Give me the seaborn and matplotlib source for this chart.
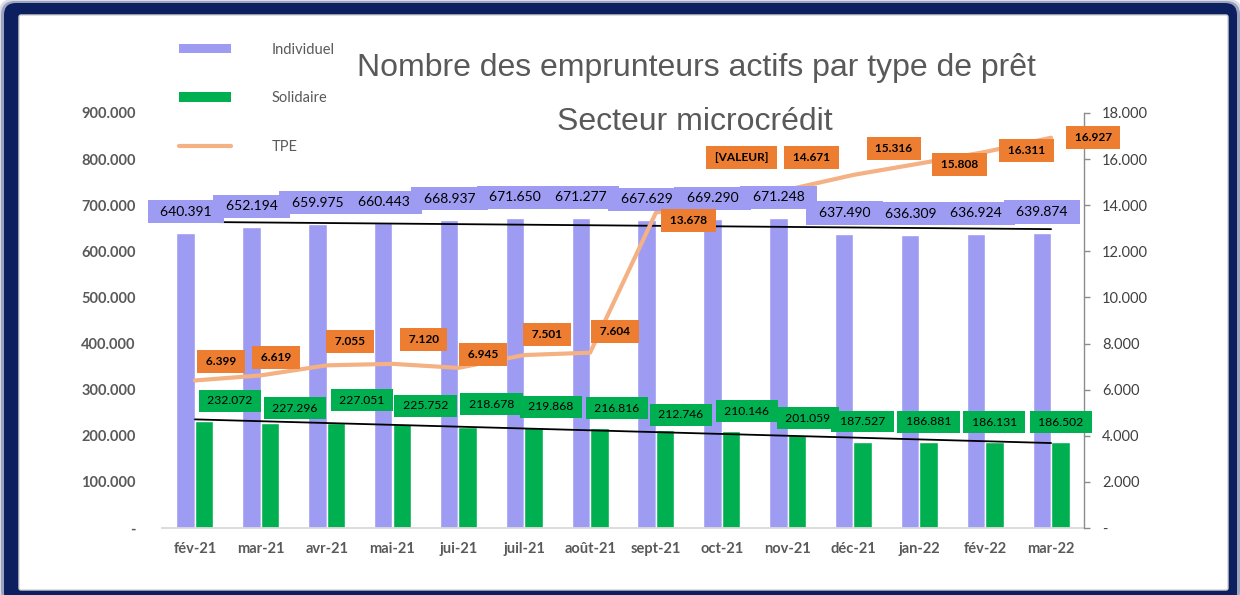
import numpy as np
import pandas as pd
import seaborn as sns
import matplotlib
matplotlib.use("Agg")
import matplotlib.pyplot as plt
from matplotlib.patches import FancyBboxPatch, Patch
from matplotlib.lines import Line2D
from matplotlib.ticker import FuncFormatter, MultipleLocator
from matplotlib.transforms import IdentityTransform

# ---------------- data ----------------
mois = ["fév-21", "mar-21", "avr-21", "mai-21", "jui-21", "juil-21", "août-21",
        "sept-21", "oct-21", "nov-21", "déc-21", "jan-22", "fév-22", "mar-22"]
individuel = [640391, 652194, 659975, 660443, 668937, 671650, 671277,
              667629, 669290, 671248, 637490, 636309, 636924, 639874]
solidaire = [232072, 227296, 227051, 225752, 218678, 219868, 216816,
             212746, 210146, 201059, 187527, 186881, 186131, 186502]
tpe = [6399, 6619, 7055, 7120, 6945, 7501, 7604,
       13678, 14200, 14671, 15316, 15808, 16311, 16927]
tpe_labels = ["6.399", "6.619", "7.055", "7.120", "6.945", "7.501", "7.604",
              "13.678", "[VALEUR]", "14.671", "15.316", "15.808", "16.311", "16.927"]
series = ["Individuel", "Solidaire", "TPE"]
title1 = "Nombre des emprunteurs actifs par type de prêt"
title2 = "Secteur microcrédit"

# ---------------- styles / label nudges (pixels) ----------------
C_IND = "#9d9cf2"
C_SOL = "#00b050"
C_TPE = "#f4b183"
C_TPE_BOX = "#ed7d31"
C_GRAY = "#595959"
NAVY = "#0c1f5e"
SOL_NX = [35, 34, 35, 33, 33, 27, 27, 25, 25, 20, 9, 9, 9, 10]
SOL_NY = [20, 15, 23, 18, 23, 20, 20, 15, 20, 17, 20, 20, 20, 20]
TPE_N = [(26, 18.5), (15, 18), (23.5, 24), (31, 24), (25, 13), (23, 21), (25, 21),
         (33, -8), (20, 43), (23.5, 32), (40.5, 26), (40.5, -0.6), (41, 1), (42, 0)]

W, H = 1240, 595
sns.set_theme(style="white")
plt.rcParams["font.family"] = ["Lato", "DejaVu Sans"]

fig = plt.figure(figsize=(W / 100, H / 100), dpi=100)
fig.patch.set_facecolor("white")

# frame (display pixel coords)
idt = IdentityTransform()
for pad, a in [(4, 0.15), (2, 0.3)]:
    fig.patches.append(FancyBboxPatch((3 - pad, -10), 1235 + 2 * pad, 602 + pad,
                                      boxstyle="round,pad=0,rounding_size=14",
                                      fc=NAVY, ec="none", alpha=a, transform=idt,
                                      zorder=-12, figure=fig))
fig.patches.append(FancyBboxPatch((4, -10), 1233, 602, boxstyle="round,pad=0,rounding_size=12",
                                  fc=NAVY, ec="none", transform=idt, zorder=-11, figure=fig))
fig.patches.append(FancyBboxPatch((19, 5), 1209, 575, boxstyle="round,pad=0,rounding_size=2",
                                  fc="white", ec="#d0d0d0", lw=1, transform=idt, zorder=-10,
                                  figure=fig))

ax = fig.add_axes([162 / W, (H - 528) / H, 922 / W, 415 / H])
ax.patch.set_alpha(0)

df = pd.DataFrame({
    "mois": mois * 2,
    "type": [series[0]] * len(mois) + [series[1]] * len(mois),
    "valeur": individuel + solidaire,
})
sns.barplot(data=df, x="mois", y="valeur", hue="type", hue_order=series[:2],
            palette=[C_IND, C_SOL], width=0.56, gap=0, saturation=1,
            legend=False, ax=ax, order=mois)

xs = np.arange(len(mois))
sns.regplot(x=xs, y=np.array(individuel), ax=ax, scatter=False, ci=None, truncate=True,
            line_kws={"color": "black", "lw": 1.3})
sns.regplot(x=xs, y=np.array(solidaire), ax=ax, scatter=False, ci=None, truncate=True,
            line_kws={"color": "black", "lw": 1.3})

ax2 = ax.twinx()
sns.lineplot(x=xs, y=tpe, ax=ax2, color=C_TPE, lw=3.0, legend=False)

ax.set_xlim(-0.5, len(mois) - 0.5)
ax.set_ylim(0, 900000)
ax2.set_ylim(0, 18000)
ax.set_xlabel("")
ax.set_ylabel("")
ax2.set_ylabel("")


def fmt(v, p):
    return "-" if abs(v) < 1e-9 else f"{v:,.0f}".replace(",", ".")


ax.yaxis.set_major_locator(MultipleLocator(100000))
ax.yaxis.set_major_formatter(FuncFormatter(fmt))
ax2.yaxis.set_major_locator(MultipleLocator(2000))
ax2.yaxis.set_major_formatter(FuncFormatter(fmt))

for s in ["left", "right", "top"]:
    ax.spines[s].set_visible(False)
ax.spines["bottom"].set_color("#d9d9d9")
ax.spines["bottom"].set_linewidth(1.3)
for s in ["left", "top", "bottom"]:
    ax2.spines[s].set_visible(False)
ax2.spines["right"].set_color("#8c8c8c")
ax2.spines["right"].set_linewidth(1.0)

ax.tick_params(axis="y", length=0, pad=19, labelsize=10.5, labelcolor=C_GRAY)
ax.tick_params(axis="x", length=0, pad=10, labelsize=10.5, labelcolor=C_GRAY)
for t in ax.get_yticklabels() + ax.get_xticklabels():
    t.set_fontweight("bold")
ax2.tick_params(axis="y", right=True, direction="out", length=4, width=1, color="#8c8c8c",
                pad=9, labelsize=10.5, labelcolor="#404040")

# data labels (drawn on ax2 so they sit above the TPE line)
for i in range(len(mois)):
    ax2.annotate(f"  {individuel[i]:,}  ".replace(",", "."), xy=(i, individuel[i]),
                 xycoords=ax.transData, xytext=(-9, 21), textcoords="offset pixels",
                 ha="center", va="center", fontsize=10, color="black",
                 bbox=dict(boxstyle="square,pad=0.4", fc=C_IND, ec="none"),
                 annotation_clip=False, zorder=5)
    ax2.annotate(f" {solidaire[i]:,} ".replace(",", "."), xy=(i, solidaire[i]),
                 xycoords=ax.transData, xytext=(SOL_NX[i], SOL_NY[i]),
                 textcoords="offset pixels", ha="center", va="center", fontsize=8.7,
                 color="black", bbox=dict(boxstyle="square,pad=0.45", fc=C_SOL, ec="none"),
                 annotation_clip=False, zorder=5)
    ax2.annotate(f" {tpe_labels[i]} ", xy=(i, tpe[i]), xycoords=ax2.transData,
                 xytext=TPE_N[i], textcoords="offset pixels", ha="center", va="center",
                 fontsize=8.6, fontweight="bold", color="black",
                 bbox=dict(boxstyle="square,pad=0.5", fc=C_TPE_BOX, ec="none"),
                 annotation_clip=False, zorder=6)

# legend
handles = [Patch(fc=C_IND, ec="none"), Patch(fc=C_SOL, ec="none"),
           Line2D([], [], color=C_TPE, lw=3.0, solid_capstyle="round")]
leg = fig.legend(handles, series, loc="upper left", bbox_to_anchor=(179 / W, 1 - 42.5 / H),
                 frameon=False, borderaxespad=0, borderpad=0, fontsize=10.5,
                 handlelength=3.56, handleheight=0.65, handletextpad=2.8, labelspacing=2.38)
for t in leg.get_texts():
    t.set_color(C_GRAY)

fig.text(696 / W, 1 - 68 / H, title1, ha="center", va="center", fontsize=23,
         color=C_GRAY, family=["Liberation Sans", "DejaVu Sans"])
fig.text(695 / W, 1 - 122 / H, title2, ha="center", va="center", fontsize=23,
         color=C_GRAY, family=["Liberation Sans", "DejaVu Sans"])

fig.savefig("out.png", dpi=100)
